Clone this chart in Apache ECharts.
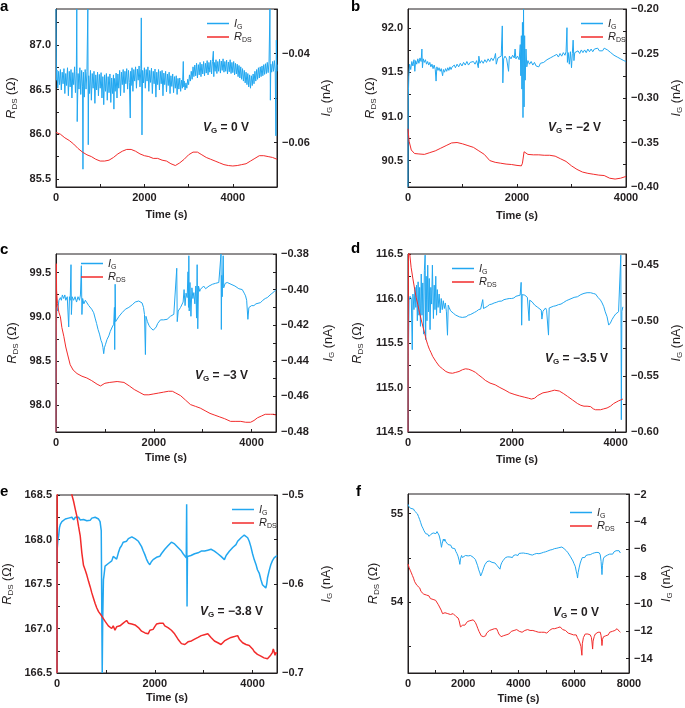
<!DOCTYPE html>
<html><head><meta charset="utf-8">
<script src="https://cdn.jsdelivr.net/npm/echarts@6/dist/echarts.min.js"></script>
<style>html,body{margin:0;padding:0;background:#fff}#c{width:685px;height:708px}</style>
</head><body><div id="c"></div>
<script>
// ---------- DATA ----------
// Panel a (VG = 0 V)
var aIG = [[0,-0.0300],[10,-0.0460],[20,-0.0437],[40,-0.0478],[60,-0.0440],[80,-0.0470],[100,-0.0436],[120,-0.0482],[140,-0.0442],[160,-0.0468],[180,-0.0434],[200,-0.0490],[220,-0.0445],[240,-0.0472],[260,-0.0432],[280,-0.0495],[300,-0.0440],[320,-0.0475],[340,-0.0436],[360,-0.0500],[380,-0.0443],[400,-0.0470],[420,-0.0430],[440,-0.0488],[460,-0.0440],[470,-0.0300],[480,-0.0553],[500,-0.0445],[520,-0.0480],[540,-0.0432],[560,-0.0492],[580,-0.0438],[600,-0.0475],[610,-0.0660],[620,-0.0442],[640,-0.0498],[660,-0.0436],[680,-0.0480],[700,-0.0440],[720,-0.0300],[730,-0.0605],[740,-0.0450],[760,-0.0490],[780,-0.0438],[800,-0.0505],[820,-0.0445],[840,-0.0478],[860,-0.0440],[880,-0.0512],[900,-0.0448],[920,-0.0482],[940,-0.0442],[960,-0.0495],[980,-0.0447],[1000,-0.0478],[1020,-0.0443],[1040,-0.0500],[1060,-0.0452],[1080,-0.0515],[1100,-0.0448],[1120,-0.0485],[1140,-0.0445],[1160,-0.0505],[1180,-0.0452],[1200,-0.0488],[1220,-0.0446],[1240,-0.0510],[1260,-0.0455],[1280,-0.0490],[1300,-0.0448],[1310,-0.0525],[1320,-0.0456],[1340,-0.0485],[1360,-0.0444],[1380,-0.0500],[1400,-0.0446],[1420,-0.0478],[1440,-0.0438],[1460,-0.0495],[1480,-0.0442],[1500,-0.0470],[1520,-0.0436],[1540,-0.0488],[1560,-0.0440],[1580,-0.0468],[1600,-0.0434],[1620,-0.0480],[1640,-0.0438],[1660,-0.0465],[1680,-0.0545],[1690,-0.0440],[1700,-0.0472],[1720,-0.0432],[1740,-0.0485],[1760,-0.0436],[1780,-0.0462],[1800,-0.0430],[1820,-0.0478],[1840,-0.0435],[1860,-0.0460],[1880,-0.0428],[1900,-0.0475],[1920,-0.0434],[1930,-0.0320],[1945,-0.0583],[1960,-0.0438],[1980,-0.0466],[2000,-0.0432],[2020,-0.0478],[2040,-0.0436],[2060,-0.0462],[2080,-0.0430],[2100,-0.0485],[2120,-0.0438],[2140,-0.0465],[2160,-0.0433],[2180,-0.0490],[2200,-0.0440],[2220,-0.0468],[2240,-0.0435],[2260,-0.0498],[2280,-0.0442],[2300,-0.0470],[2320,-0.0436],[2340,-0.0482],[2360,-0.0440],[2380,-0.0468],[2400,-0.0438],[2420,-0.0495],[2440,-0.0444],[2460,-0.0470],[2480,-0.0440],[2500,-0.0486],[2520,-0.0446],[2540,-0.0472],[2560,-0.0442],[2580,-0.0490],[2600,-0.0450],[2620,-0.0474],[2640,-0.0446],[2660,-0.0488],[2680,-0.0452],[2700,-0.0478],[2720,-0.0450],[2740,-0.0492],[2760,-0.0456],[2780,-0.0480],[2800,-0.0455],[2820,-0.0485],[2840,-0.0460],[2860,-0.0478],[2880,-0.0418],[2890,-0.0475],[2900,-0.0462],[2920,-0.0482],[2940,-0.0466],[2960,-0.0478],[2980,-0.0458],[3000,-0.0470],[3020,-0.0448],[3040,-0.0462],[3060,-0.0440],[3080,-0.0458],[3100,-0.0430],[3120,-0.0452],[3140,-0.0426],[3160,-0.0450],[3180,-0.0422],[3200,-0.0455],[3220,-0.0425],[3240,-0.0448],[3260,-0.0420],[3280,-0.0452],[3300,-0.0424],[3320,-0.0446],[3340,-0.0418],[3360,-0.0450],[3380,-0.0422],[3400,-0.0444],[3420,-0.0416],[3440,-0.0448],[3460,-0.0420],[3480,-0.0442],[3500,-0.0415],[3520,-0.0446],[3540,-0.0418],[3560,-0.0395],[3570,-0.0452],[3580,-0.0420],[3600,-0.0440],[3620,-0.0414],[3640,-0.0445],[3660,-0.0418],[3680,-0.0440],[3700,-0.0413],[3720,-0.0444],[3740,-0.0417],[3760,-0.0438],[3780,-0.0412],[3800,-0.0442],[3820,-0.0418],[3840,-0.0440],[3860,-0.0415],[3880,-0.0446],[3900,-0.0419],[3920,-0.0441],[3940,-0.0414],[3960,-0.0445],[3980,-0.0420],[4000,-0.0443],[4020,-0.0418],[4040,-0.0448],[4060,-0.0422],[4080,-0.0446],[4100,-0.0424],[4120,-0.0452],[4140,-0.0427],[4160,-0.0455],[4180,-0.0430],[4200,-0.0458],[4220,-0.0434],[4240,-0.0462],[4260,-0.0438],[4280,-0.0466],[4300,-0.0442],[4320,-0.0470],[4340,-0.0445],[4360,-0.0475],[4380,-0.0448],[4400,-0.0478],[4420,-0.0450],[4440,-0.0472],[4460,-0.0446],[4480,-0.0468],[4500,-0.0440],[4520,-0.0462],[4540,-0.0436],[4560,-0.0458],[4580,-0.0432],[4600,-0.0455],[4620,-0.0430],[4640,-0.0452],[4660,-0.0428],[4680,-0.0450],[4700,-0.0425],[4720,-0.0447],[4740,-0.0423],[4760,-0.0445],[4780,-0.0420],[4800,-0.0443],[4820,-0.0419],[4840,-0.0300],[4850,-0.0505],[4860,-0.0424],[4880,-0.0442],[4900,-0.0418],[4920,-0.0440],[4940,-0.0416],[4960,-0.0438],[4975,-0.0585],[4985,-0.0370],[4995,-0.0440],[5000,-0.0425]];
var aRDS = [[0,86.02],[100,86.00],[200,85.96],[300,85.93],[400,85.89],[500,85.84],[600,85.80],[700,85.77],[800,85.75],[900,85.72],[1000,85.70],[1100,85.70],[1200,85.71],[1300,85.74],[1400,85.78],[1500,85.81],[1600,85.83],[1700,85.83],[1800,85.81],[1900,85.78],[2000,85.76],[2100,85.75],[2200,85.73],[2300,85.73],[2400,85.71],[2500,85.70],[2600,85.67],[2700,85.65],[2800,85.68],[2900,85.72],[3000,85.77],[3100,85.80],[3200,85.80],[3300,85.77],[3400,85.74],[3500,85.72],[3600,85.70],[3700,85.68],[3800,85.66],[3900,85.65],[4000,85.645],[4100,85.65],[4200,85.66],[4300,85.67],[4400,85.70],[4500,85.73],[4600,85.76],[4700,85.76],[4800,85.75],[4900,85.74],[5000,85.72]];
var aXTicks = [0,1000,2000,3000,4000,5000], aXLabels = [0,2000,4000];
var aLTicks = [85.5,85.75,86,86.25,86.5,86.75,87,87.25], aLLabels = [85.5,86,86.5,87];
var aRTicks = [-0.07,-0.06,-0.05,-0.04,-0.03], aRLabels = [-0.06,-0.04];

// Panel b (VG = -2 V)
var bIG = [[0,-0.400],[5,-0.300],[15,-0.275],[30,-0.262],[50,-0.268],[70,-0.259],[90,-0.264],[110,-0.257],[125,-0.270],[140,-0.258],[160,-0.262],[180,-0.256],[200,-0.261],[220,-0.255],[240,-0.259],[255,-0.245],[265,-0.266],[280,-0.256],[300,-0.260],[320,-0.257],[340,-0.262],[360,-0.259],[380,-0.263],[400,-0.260],[420,-0.265],[440,-0.262],[460,-0.267],[480,-0.263],[500,-0.268],[515,-0.281],[530,-0.265],[550,-0.269],[570,-0.266],[590,-0.270],[610,-0.267],[635,-0.275],[650,-0.268],[670,-0.271],[690,-0.267],[710,-0.270],[730,-0.266],[750,-0.269],[770,-0.265],[790,-0.268],[810,-0.265],[830,-0.267],[850,-0.263],[870,-0.266],[900,-0.262],[930,-0.265],[960,-0.261],[990,-0.264],[1020,-0.260],[1050,-0.263],[1080,-0.259],[1110,-0.263],[1140,-0.260],[1170,-0.262],[1200,-0.259],[1230,-0.262],[1260,-0.258],[1290,-0.266],[1300,-0.253],[1320,-0.261],[1350,-0.258],[1380,-0.261],[1410,-0.257],[1440,-0.260],[1470,-0.256],[1500,-0.259],[1530,-0.255],[1560,-0.258],[1590,-0.254],[1605,-0.250],[1620,-0.262],[1650,-0.255],[1680,-0.257],[1710,-0.253],[1730,-0.219],[1740,-0.283],[1755,-0.256],[1780,-0.253],[1810,-0.256],[1845,-0.270],[1860,-0.253],[1890,-0.256],[1920,-0.252],[1950,-0.255],[1965,-0.245],[1980,-0.256],[2010,-0.253],[2040,-0.257],[2060,-0.240],[2070,-0.275],[2080,-0.230],[2090,-0.290],[2100,-0.215],[2110,-0.322],[2120,-0.200],[2130,-0.310],[2140,-0.230],[2150,-0.280],[2165,-0.245],[2180,-0.265],[2200,-0.258],[2230,-0.262],[2260,-0.259],[2290,-0.263],[2320,-0.260],[2350,-0.264],[2380,-0.262],[2400,-0.265],[2430,-0.261],[2460,-0.263],[2490,-0.260],[2520,-0.261],[2550,-0.257],[2580,-0.259],[2610,-0.255],[2640,-0.257],[2670,-0.253],[2700,-0.255],[2730,-0.251],[2760,-0.254],[2790,-0.250],[2820,-0.253],[2850,-0.249],[2880,-0.252],[2900,-0.248],[2917,-0.221],[2925,-0.260],[2940,-0.249],[2960,-0.262],[2980,-0.248],[3000,-0.266],[3015,-0.250],[3030,-0.235],[3045,-0.258],[3060,-0.249],[3090,-0.251],[3120,-0.247],[3150,-0.250],[3180,-0.246],[3210,-0.249],[3240,-0.246],[3270,-0.249],[3300,-0.245],[3330,-0.248],[3360,-0.245],[3390,-0.248],[3420,-0.245],[3450,-0.247],[3480,-0.244],[3510,-0.247],[3540,-0.245],[3570,-0.247],[3600,-0.244],[3630,-0.246],[3660,-0.246],[3690,-0.248],[3720,-0.249],[3750,-0.251],[3780,-0.252],[3810,-0.254],[3840,-0.254],[3870,-0.255],[3900,-0.256],[3930,-0.256],[3960,-0.258],[4000,-0.259]];
var bRDS = [[0,90.86],[20,90.72],[60,90.62],[120,90.58],[200,90.575],[300,90.57],[400,90.59],[500,90.61],[600,90.64],[700,90.67],[800,90.70],[900,90.705],[1000,90.69],[1100,90.67],[1200,90.65],[1300,90.61],[1400,90.57],[1500,90.50],[1600,90.48],[1700,90.47],[1800,90.46],[1900,90.455],[2000,90.445],[2080,90.44],[2100,90.47],[2130,90.60],[2160,90.58],[2200,90.57],[2300,90.565],[2400,90.565],[2500,90.56],[2600,90.56],[2700,90.55],[2800,90.52],[2900,90.49],[3000,90.44],[3100,90.40],[3200,90.37],[3300,90.355],[3400,90.345],[3500,90.335],[3600,90.33],[3700,90.30],[3800,90.29],[3900,90.30],[4000,90.32]];
var bXTicks = [0,1000,2000,3000,4000], bXLabels = [0,2000,4000];
var bLTicks = [90.25,90.5,90.75,91,91.25,91.5,91.75,92], bLLabels = [90.5,91,91.5,92];
var bRTicks = [-0.4,-0.375,-0.35,-0.325,-0.3,-0.275,-0.25,-0.225,-0.2], bRLabels = [-0.4,-0.35,-0.3,-0.25,-0.2];

// Panel c (VG = -3 V)
var cIG = [[0,-0.480],[5,-0.430],[15,-0.410],[34,-0.412],[60,-0.406],[89,-0.4045],[110,-0.406],[130,-0.403],[157,-0.405],[180,-0.403],[200,-0.406],[230,-0.404],[260,-0.421],[275,-0.404],[290,-0.406],[307,-0.386],[315,-0.414],[330,-0.404],[360,-0.406],[390,-0.404],[420,-0.407],[450,-0.404],[480,-0.406],[500,-0.403],[519,-0.3866],[530,-0.414],[545,-0.405],[570,-0.408],[600,-0.406],[635,-0.4075],[670,-0.409],[700,-0.408],[730,-0.411],[771,-0.413],[800,-0.416],[830,-0.419],[860,-0.4224],[890,-0.425],[920,-0.4285],[942,-0.430],[960,-0.4325],[976,-0.436],[990,-0.4327],[1010,-0.431],[1044,-0.428],[1080,-0.426],[1110,-0.4235],[1150,-0.421],[1180,-0.4195],[1195,-0.410],[1201,-0.4337],[1210,-0.397],[1220,-0.418],[1250,-0.417],[1290,-0.415],[1317,-0.4148],[1350,-0.413],[1390,-0.412],[1420,-0.411],[1454,-0.411],[1490,-0.410],[1530,-0.409],[1560,-0.4085],[1590,-0.4082],[1620,-0.407],[1660,-0.4066],[1692,-0.4064],[1730,-0.4066],[1761,-0.4075],[1790,-0.410],[1810,-0.414],[1829,-0.4365],[1840,-0.415],[1870,-0.418],[1900,-0.420],[1932,-0.4214],[1960,-0.422],[1990,-0.4228],[2020,-0.4233],[2050,-0.421],[2080,-0.419],[2110,-0.418],[2137,-0.417],[2170,-0.4175],[2200,-0.417],[2240,-0.4165],[2273,-0.4167],[2300,-0.416],[2340,-0.415],[2380,-0.414],[2410,-0.4139],[2440,-0.413],[2470,-0.388],[2480,-0.418],[2500,-0.412],[2530,-0.411],[2546,-0.4101],[2570,-0.409],[2600,-0.407],[2620,-0.400],[2640,-0.409],[2660,-0.402],[2683,-0.4045],[2700,-0.390],[2710,-0.410],[2717,-0.381],[2725,-0.412],[2740,-0.396],[2760,-0.415],[2780,-0.399],[2800,-0.405],[2819,-0.4017],[2840,-0.408],[2860,-0.398],[2875,-0.416],[2887,-0.386],[2900,-0.422],[2915,-0.398],[2940,-0.401],[2956,-0.3998],[2990,-0.400],[3020,-0.398],[3060,-0.3995],[3092,-0.3988],[3130,-0.398],[3170,-0.3985],[3200,-0.397],[3229,-0.3975],[3260,-0.3965],[3300,-0.397],[3330,-0.396],[3365,-0.3964],[3375,-0.380],[3382,-0.4224],[3390,-0.392],[3400,-0.404],[3420,-0.381],[3430,-0.399],[3460,-0.3965],[3502,-0.396],[3540,-0.3965],[3580,-0.397],[3620,-0.3975],[3660,-0.398],[3700,-0.398],[3740,-0.3995],[3775,-0.3988],[3810,-0.400],[3850,-0.402],[3877,-0.4035],[3900,-0.406],[3925,-0.4167],[3945,-0.4101],[3970,-0.410],[4000,-0.409],[4048,-0.409],[4090,-0.408],[4130,-0.4075],[4184,-0.4073],[4230,-0.406],[4280,-0.405],[4321,-0.4045],[4360,-0.4035],[4400,-0.4025],[4457,-0.4013],[4500,-0.400]];
var cRDS = [[0,97.70],[8,99.60],[12,99.30],[30,99.15],[60,99.05],[90,99.00],[120,98.88],[160,98.78],[200,98.66],[240,98.57],[290,98.46],[350,98.40],[430,98.36],[530,98.33],[630,98.31],[730,98.28],[840,98.24],[910,98.22],[1000,98.25],[1100,98.26],[1250,98.27],[1390,98.26],[1500,98.22],[1600,98.18],[1700,98.15],[1800,98.12],[1900,98.12],[2000,98.13],[2100,98.14],[2200,98.15],[2300,98.16],[2380,98.16],[2450,98.14],[2550,98.11],[2650,98.06],[2750,98.01],[2850,97.99],[2950,97.97],[3050,97.94],[3150,97.91],[3250,97.89],[3350,97.87],[3450,97.85],[3570,97.82],[3680,97.82],[3780,97.82],[3880,97.81],[3980,97.81],[4050,97.83],[4120,97.86],[4200,97.88],[4280,97.90],[4390,97.90],[4450,97.90],[4500,97.89]];
var cXTicks = [0,1000,2000,3000,4000], cXLabels = [0,2000,4000];
var cLTicks = [97.75,98,98.25,98.5,98.75,99,99.25,99.5], cLLabels = [98,98.5,99,99.5];
var cRTicks = [-0.48,-0.47,-0.46,-0.45,-0.44,-0.43,-0.42,-0.41,-0.4,-0.39,-0.38], cRLabels = [-0.48,-0.46,-0.44,-0.42,-0.4,-0.38];

// Panel d (VG = -3.5 V)
var dIG = [[0,-0.600],[8,-0.530],[20,-0.482],[40,-0.478],[63,-0.480],[82,-0.526],[95,-0.476],[115,-0.490],[135,-0.470],[150,-0.488],[165,-0.468],[180,-0.500],[195,-0.465],[210,-0.495],[225,-0.470],[240,-0.505],[255,-0.458],[270,-0.495],[285,-0.466],[300,-0.512],[315,-0.455],[330,-0.441],[340,-0.517],[350,-0.460],[365,-0.500],[380,-0.450],[395,-0.492],[410,-0.462],[425,-0.508],[440,-0.470],[455,-0.485],[470,-0.450],[490,-0.498],[505,-0.468],[520,-0.490],[535,-0.460],[550,-0.495],[565,-0.472],[580,-0.488],[600,-0.476],[620,-0.493],[640,-0.480],[660,-0.490],[680,-0.482],[700,-0.489],[720,-0.484],[740,-0.492],[761,-0.513],[775,-0.486],[792,-0.488],[820,-0.491],[850,-0.490],[880,-0.4935],[919,-0.4949],[950,-0.496],[990,-0.4965],[1046,-0.497],[1080,-0.4955],[1120,-0.4965],[1160,-0.495],[1200,-0.4945],[1236,-0.4934],[1280,-0.4925],[1320,-0.4915],[1360,-0.490],[1400,-0.4895],[1426,-0.4889],[1440,-0.481],[1455,-0.489],[1490,-0.4875],[1530,-0.487],[1570,-0.4855],[1616,-0.485],[1660,-0.484],[1700,-0.4835],[1750,-0.4825],[1807,-0.4823],[1850,-0.481],[1900,-0.4805],[1950,-0.480],[1997,-0.480],[2040,-0.4795],[2080,-0.478],[2120,-0.4775],[2160,-0.477],[2180,-0.4655],[2190,-0.504],[2200,-0.4765],[2250,-0.477],[2300,-0.479],[2333,-0.500],[2345,-0.4815],[2390,-0.483],[2440,-0.4859],[2500,-0.488],[2567,-0.4904],[2580,-0.4985],[2600,-0.4915],[2631,-0.492],[2650,-0.4885],[2670,-0.4905],[2707,-0.5129],[2720,-0.4885],[2757,-0.4889],[2800,-0.487],[2850,-0.4865],[2900,-0.4855],[2948,-0.485],[3000,-0.4835],[3050,-0.482],[3100,-0.481],[3138,-0.4805],[3200,-0.479],[3265,-0.4784],[3330,-0.4765],[3391,-0.4754],[3450,-0.4748],[3518,-0.4748],[3570,-0.4755],[3613,-0.476],[3660,-0.479],[3708,-0.4814],[3740,-0.484],[3772,-0.4874],[3800,-0.492],[3835,-0.4964],[3867,-0.5039],[3900,-0.502],[3930,-0.499],[3962,-0.4965],[4000,-0.494],[4057,-0.4919],[4090,-0.4915],[4100,-0.441],[4110,-0.589],[4120,-0.4915],[4140,-0.4875]];
var dRDS = [[0,114.5],[10,116.6],[30,116.52],[60,116.35],[95,116.22],[130,116.10],[158,116.01],[190,115.93],[222,115.84],[255,115.76],[285,115.69],[320,115.61],[349,115.54],[380,115.48],[412,115.43],[445,115.39],[475,115.35],[540,115.29],[602,115.24],[665,115.21],[729,115.18],[790,115.165],[856,115.16],[920,115.17],[983,115.18],[1050,115.20],[1109,115.21],[1170,115.205],[1236,115.19],[1300,115.17],[1363,115.14],[1430,115.11],[1490,115.08],[1580,115.05],[1680,115.03],[1770,115.00],[1870,114.97],[1960,114.94],[2060,114.92],[2150,114.905],[2250,114.89],[2320,114.88],[2377,114.87],[2440,114.88],[2500,114.91],[2536,114.93],[2600,114.94],[2694,114.95],[2760,114.96],[2821,114.97],[2916,114.96],[3000,114.93],[3074,114.90],[3170,114.86],[3265,114.82],[3330,114.80],[3391,114.79],[3450,114.79],[3518,114.785],[3570,114.76],[3613,114.75],[3660,114.75],[3708,114.75],[3770,114.76],[3835,114.77],[3900,114.79],[3962,114.82],[4010,114.835],[4057,114.85],[4100,114.86],[4140,114.87]];
var dXTicks = [0,1000,2000,3000,4000], dXLabels = [0,2000,4000];
var dLTicks = [114.5,114.75,115,115.25,115.5,115.75,116,116.25,116.5], dLLabels = [114.5,115,115.5,116,116.5];
var dRTicks = [-0.6,-0.575,-0.55,-0.525,-0.5,-0.475,-0.45], dRLabels = [-0.6,-0.55,-0.5,-0.45];

// Panel e (VG = -3.8 V)
var eIG = [[0,-0.700],[5,-0.560],[20,-0.550],[34,-0.546],[50,-0.537],[68,-0.533],[100,-0.530],[136,-0.529],[170,-0.527],[200,-0.529],[235,-0.526],[271,-0.528],[305,-0.525],[340,-0.528],[375,-0.525],[407,-0.527],[440,-0.525],[475,-0.528],[508,-0.526],[542,-0.5275],[575,-0.526],[610,-0.529],[645,-0.527],[678,-0.5285],[712,-0.526],[746,-0.527],[780,-0.525],[814,-0.5255],[850,-0.527],[881,-0.530],[905,-0.540],[925,-0.700],[935,-0.640],[950,-0.595],[963,-0.5896],[983,-0.580],[1010,-0.582],[1050,-0.577],[1085,-0.5764],[1120,-0.574],[1150,-0.569],[1186,-0.5707],[1220,-0.572],[1255,-0.565],[1288,-0.5595],[1320,-0.557],[1355,-0.553],[1390,-0.552],[1424,-0.5519],[1460,-0.549],[1495,-0.550],[1530,-0.547],[1559,-0.5482],[1595,-0.549],[1630,-0.551],[1665,-0.552],[1695,-0.5538],[1730,-0.558],[1765,-0.563],[1797,-0.567],[1830,-0.572],[1865,-0.576],[1898,-0.5783],[1930,-0.575],[1966,-0.5726],[2000,-0.574],[2035,-0.570],[2070,-0.571],[2102,-0.5689],[2135,-0.566],[2170,-0.565],[2205,-0.561],[2237,-0.5595],[2270,-0.557],[2305,-0.556],[2340,-0.553],[2373,-0.5531],[2405,-0.555],[2440,-0.556],[2475,-0.559],[2508,-0.5606],[2545,-0.563],[2580,-0.566],[2615,-0.568],[2644,-0.5707],[2652,-0.5105],[2660,-0.6253],[2668,-0.569],[2700,-0.571],[2740,-0.568],[2780,-0.5689],[2815,-0.566],[2850,-0.567],[2885,-0.565],[2915,-0.5659],[2950,-0.563],[2985,-0.565],[3020,-0.563],[3051,-0.5651],[3085,-0.562],[3120,-0.563],[3150,-0.561],[3186,-0.5613],[3220,-0.563],[3255,-0.565],[3290,-0.566],[3322,-0.5651],[3355,-0.569],[3390,-0.571],[3424,-0.5726],[3460,-0.568],[3490,-0.566],[3525,-0.5632],[3560,-0.561],[3595,-0.559],[3630,-0.557],[3661,-0.5557],[3695,-0.552],[3730,-0.550],[3765,-0.548],[3797,-0.547],[3830,-0.545],[3864,-0.5444],[3900,-0.548],[3932,-0.5519],[3965,-0.558],[4000,-0.566],[4034,-0.5726],[4070,-0.578],[4100,-0.584],[4136,-0.5877],[4170,-0.595],[4203,-0.6008],[4235,-0.603],[4271,-0.6046],[4290,-0.600],[4305,-0.5933],[4340,-0.585],[4373,-0.5783],[4405,-0.574],[4441,-0.5707],[4475,-0.5726],[4500,-0.568]];
var eRDS = [[0,166.50],[6,169.50],[305,168.50],[339,168.43],[370,168.35],[407,168.26],[440,168.15],[475,168.04],[508,167.85],[542,167.71],[575,167.66],[610,167.60],[645,167.53],[678,167.47],[712,167.40],[746,167.34],[780,167.28],[814,167.23],[850,167.19],[881,167.17],[915,167.14],[949,167.13],[985,167.08],[1017,167.06],[1050,167.03],[1085,167.04],[1119,167.00],[1150,167.03],[1186,166.98],[1220,167.02],[1255,167.00],[1288,167.03],[1320,167.01],[1355,167.06],[1390,167.05],[1424,167.09],[1460,167.06],[1495,167.08],[1530,167.05],[1559,167.07],[1595,167.04],[1630,167.05],[1665,167.01],[1695,167.00],[1730,166.97],[1765,166.99],[1800,166.95],[1831,166.96],[1865,166.94],[1900,166.98],[1935,166.96],[1966,166.99],[2000,167.02],[2035,167.05],[2070,167.03],[2102,167.06],[2135,167.04],[2170,167.06],[2205,167.03],[2237,167.04],[2270,167.01],[2305,167.02],[2340,166.98],[2373,166.98],[2405,166.94],[2440,166.92],[2475,166.88],[2508,166.87],[2545,166.83],[2580,166.85],[2615,166.82],[2644,166.83],[2680,166.85],[2715,166.83],[2750,166.86],[2780,166.84],[2815,166.88],[2850,166.86],[2885,166.90],[2920,166.88],[2950,166.92],[2983,166.90],[3015,166.93],[3050,166.91],[3085,166.94],[3119,166.92],[3150,166.90],[3185,166.89],[3220,166.86],[3254,166.87],[3290,166.84],[3325,166.85],[3355,166.82],[3390,166.83],[3425,166.86],[3460,166.85],[3490,166.88],[3525,166.87],[3560,166.90],[3595,166.88],[3630,166.91],[3661,166.90],[3695,166.92],[3730,166.88],[3765,166.86],[3797,166.84],[3830,166.85],[3865,166.82],[3900,166.83],[3932,166.81],[3965,166.79],[4000,166.77],[4035,166.74],[4068,166.74],[4100,166.71],[4135,166.72],[4170,166.69],[4203,166.70],[4235,166.67],[4270,166.69],[4305,166.66],[4339,166.68],[4370,166.70],[4405,166.73],[4425,166.77],[4441,166.76],[4460,166.70],[4475,166.73],[4500,166.72]];
var eXTicks = [0,1000,2000,3000,4000], eXLabels = [0,2000,4000];
var eLTicks = [166.5,166.75,167,167.25,167.5,167.75,168,168.25,168.5], eLLabels = [166.5,167,167.5,168,168.5];
var eRTicks = [-0.7,-0.65,-0.6,-0.55,-0.5], eRLabels = [-0.7,-0.6,-0.5];

// Panel f (VG = 0 V)
var fIG = [[0,-2.70],[30,-2.85],[60,-2.80],[90,-3.00],[121,-2.95],[160,-3.10],[200,-3.05],[240,-3.20],[280,-3.15],[303,-3.25],[340,-3.40],[380,-3.60],[424,-3.83],[460,-4.05],[500,-4.30],[540,-4.45],[570,-4.60],[605,-4.68],[640,-4.85],[680,-4.95],[720,-4.90],[760,-5.05],[787,-5.00],[830,-4.90],[870,-4.95],[910,-4.80],[950,-4.85],[969,-4.75],[1010,-4.85],[1050,-4.70],[1090,-4.80],[1120,-4.95],[1150,-5.17],[1180,-5.45],[1211,-5.85],[1240,-5.55],[1280,-5.25],[1310,-5.40],[1332,-5.25],[1370,-5.45],[1410,-5.55],[1450,-5.65],[1480,-5.60],[1513,-5.78],[1550,-5.70],[1590,-5.90],[1630,-5.85],[1660,-6.00],[1695,-5.95],[1730,-6.15],[1770,-6.30],[1810,-6.50],[1850,-6.80],[1877,-7.10],[1900,-6.70],[1940,-6.45],[1970,-6.60],[1998,-6.51],[2040,-6.60],[2080,-6.45],[2120,-6.55],[2150,-6.40],[2179,-6.48],[2220,-6.60],[2260,-6.45],[2300,-6.55],[2330,-6.50],[2361,-6.58],[2400,-6.65],[2440,-6.75],[2482,-6.88],[2520,-7.20],[2560,-7.50],[2603,-7.73],[2630,-7.95],[2663,-7.80],[2700,-7.60],[2740,-7.35],[2785,-7.12],[2820,-7.00],[2860,-6.90],[2900,-6.80],[2940,-6.85],[2966,-6.76],[3000,-6.85],[3040,-6.95],[3080,-6.85],[3110,-6.95],[3148,-7.00],[3190,-7.10],[3230,-7.20],[3270,-7.30],[3300,-7.25],[3329,-7.45],[3360,-7.15],[3400,-6.95],[3450,-6.80],[3490,-6.75],[3530,-6.60],[3570,-6.70],[3610,-6.55],[3650,-6.65],[3692,-6.56],[3740,-6.50],[3780,-6.60],[3820,-6.45],[3860,-6.50],[3900,-6.40],[3935,-6.39],[3980,-6.45],[4020,-6.30],[4060,-6.40],[4100,-6.28],[4140,-6.35],[4177,-6.27],[4220,-6.38],[4260,-6.30],[4300,-6.42],[4340,-6.32],[4380,-6.40],[4419,-6.38],[4460,-6.30],[4500,-6.42],[4540,-6.28],[4580,-6.35],[4620,-6.25],[4661,-6.30],[4700,-6.22],[4740,-6.32],[4780,-6.20],[4820,-6.28],[4860,-6.18],[4903,-6.22],[4940,-6.10],[4980,-6.18],[5020,-6.05],[5060,-6.12],[5100,-6.00],[5145,-6.05],[5180,-5.95],[5220,-6.02],[5260,-5.88],[5300,-5.95],[5340,-5.85],[5387,-5.92],[5420,-5.80],[5460,-5.88],[5500,-5.75],[5530,-5.85],[5569,-5.83],[5610,-5.90],[5650,-5.95],[5690,-6.02],[5730,-6.10],[5751,-6.05],[5790,-6.25],[5830,-6.35],[5870,-6.50],[5900,-6.60],[5932,-6.63],[5970,-6.85],[6010,-7.05],[6053,-7.24],[6090,-7.60],[6120,-7.85],[6138,-8.10],[6160,-7.70],[6200,-7.30],[6235,-7.00],[6270,-6.80],[6310,-6.60],[6356,-6.51],[6400,-6.60],[6440,-6.45],[6480,-6.55],[6520,-6.40],[6560,-6.50],[6598,-6.39],[6640,-6.45],[6680,-6.30],[6720,-6.40],[6760,-6.25],[6800,-6.32],[6840,-6.22],[6880,-6.30],[6920,-6.25],[6960,-6.40],[6990,-6.90],[7010,-7.50],[7022,-7.85],[7040,-7.20],[7070,-6.70],[7110,-6.55],[7143,-6.50],[7180,-6.60],[7220,-6.42],[7260,-6.50],[7300,-6.35],[7325,-6.38],[7370,-6.25],[7410,-6.35],[7450,-6.20],[7490,-6.28],[7530,-6.10],[7567,-6.02],[7600,-6.20],[7640,-6.10],[7688,-6.27]];
var fRDS = [[0,54.43],[40,54.39],[80,54.36],[121,54.33],[160,54.30],[200,54.27],[242,54.23],[280,54.21],[320,54.19],[370,54.18],[424,54.16],[470,54.12],[520,54.11],[570,54.09],[620,54.10],[666,54.08],[710,54.06],[760,54.07],[810,54.04],[860,54.05],[908,54.03],[950,54.04],[1000,54.02],[1050,54.00],[1100,53.97],[1150,53.95],[1200,53.91],[1250,53.87],[1290,53.89],[1340,53.88],[1392,53.89],[1440,53.87],[1490,53.88],[1540,53.86],[1590,53.88],[1634,53.87],[1680,53.85],[1730,53.84],[1780,53.82],[1816,53.82],[1850,53.79],[1900,53.72],[1937,53.71],[1980,53.74],[2020,53.75],[2058,53.74],[2100,53.76],[2150,53.78],[2200,53.77],[2240,53.79],[2300,53.80],[2361,53.80],[2400,53.79],[2440,53.77],[2482,53.74],[2530,53.70],[2570,53.67],[2603,53.65],[2650,53.62],[2690,53.64],[2724,53.61],[2770,53.63],[2810,53.62],[2845,53.65],[2900,53.66],[2950,53.68],[3000,53.70],[3040,53.69],[3087,53.71],[3130,53.70],[3170,53.71],[3208,53.70],[3250,53.67],[3290,53.64],[3329,53.63],[3370,53.61],[3410,53.63],[3450,53.62],[3500,53.64],[3550,53.63],[3600,53.65],[3650,53.64],[3692,53.65],[3740,53.67],[3790,53.66],[3840,53.68],[3890,53.67],[3935,53.69],[3980,53.68],[4030,53.67],[4080,53.68],[4130,53.66],[4177,53.67],[4230,53.68],[4280,53.67],[4330,53.69],[4380,53.68],[4419,53.68],[4470,53.67],[4520,53.68],[4570,53.66],[4620,53.67],[4680,53.68],[4730,53.66],[4782,53.67],[4830,53.66],[4880,53.67],[4930,53.66],[4980,53.65],[5024,53.65],[5070,53.66],[5120,53.68],[5170,53.69],[5220,53.70],[5266,53.71],[5310,53.70],[5360,53.72],[5410,53.71],[5460,53.73],[5508,53.72],[5550,53.70],[5600,53.69],[5650,53.67],[5700,53.68],[5751,53.66],[5800,53.65],[5850,53.66],[5900,53.64],[5950,53.65],[5993,53.63],[6040,53.62],[6090,53.63],[6130,53.60],[6174,53.59],[6210,53.55],[6235,53.57],[6260,53.50],[6280,53.48],[6295,53.40],[6310,53.53],[6350,53.60],[6380,53.62],[6416,53.64],[6460,53.62],[6510,53.64],[6560,53.62],[6598,53.63],[6640,53.60],[6660,53.55],[6683,53.47],[6700,53.56],[6740,53.61],[6780,53.64],[6830,53.63],[6880,53.66],[6920,53.64],[6961,53.66],[6990,53.62],[7010,53.56],[7022,53.51],[7040,53.58],[7080,53.61],[7120,53.63],[7160,53.62],[7203,53.64],[7250,53.63],[7300,53.66],[7350,53.65],[7400,53.67],[7446,53.66],[7490,53.68],[7530,53.67],[7567,53.70],[7610,53.68],[7650,53.67],[7688,53.66]];
var fXTicks = [0,1000,2000,3000,4000,5000,6000,7000,8000], fXLabels = [0,2000,4000,6000,8000];
var fLTicks = [53.5,54,54.5,55], fLLabels = [54,55];
var fRTicks = [-14,-12,-10,-8,-6,-4,-2], fRLabels = [-14,-12,-10,-8,-6,-4,-2];

var panelLetters = ['a','b','c','d','e','f'];
var gateVoltages = ['0 V','\u22122 V','\u22123 V','\u22123.5 V','\u22123.8 V','0 V'];

// ---------- LAYOUT ----------
var FONT = '"Liberation Sans", Arial, Helvetica, sans-serif';
var BLUE = '#22a7f0', RED = '#f22b2b', AX = '#231f20';
var panels = [
  {ig:aIG, r:aRDS, xt:aXTicks, xl:aXLabels, lt:aLTicks, ll:aLLabels, rt:aRTicks, rl:aRLabels,
   grid:{left:56,top:9,width:221,height:178}, x:[0,5000], L:[85.41,87.40], R:[-0.07,-0.03],
   ld:1, rd:2, lGap:37, rGap:43, xGap:22, leg:[207,18], vg:[203,120], let:[0,-1], lw:1},
  {ig:bIG, r:bRDS, xt:bXTicks, xl:bXLabels, lt:bLTicks, ll:bLLabels, rt:bRTicks, rl:bRLabels,
   grid:{left:408,top:9,width:221,height:178}, x:[0,4000], L:[90.2,92.22], R:[-0.40,-0.20],
   ld:1, rd:2, lGap:29, rGap:44, xGap:23, leg:[581,18], vg:[548,120], let:[351,-1], lw:1},
  {ig:cIG, r:cRDS, xt:cXTicks, xl:cXLabels, lt:cLTicks, ll:cLLabels, rt:cRTicks, rl:cRLabels,
   grid:{left:56,top:254,width:220,height:178}, x:[0,4500], L:[97.70,99.71], R:[-0.48,-0.38],
   ld:1, rd:2, lGap:36, rGap:46, xGap:20, leg:[81,258], vg:[195,368], let:[0,242], lw:1},
  {ig:dIG, r:dRDS, xt:dXTicks, xl:dXLabels, lt:dLTicks, ll:dLLabels, rt:dRTicks, rl:dRLabels,
   grid:{left:408,top:254,width:221,height:178}, x:[0,4200], L:[114.5,116.5], R:[-0.60,-0.44],
   ld:1, rd:2, lGap:43, rGap:44, xGap:22, leg:[452,263], vg:[545,351], let:[351,241], lw:1},
  {ig:eIG, r:eRDS, xt:eXTicks, xl:eXLabels, lt:eLTicks, ll:eLLabels, rt:eRTicks, rl:eRLabels,
   grid:{left:57,top:495,width:220,height:178}, x:[0,4500], L:[166.5,168.5], R:[-0.7,-0.5],
   ld:1, rd:1, lGap:42, rGap:43, xGap:19, leg:[232,504], vg:[200,604], let:[0,484], lw:1.5},
  {ig:fIG, r:fRDS, xt:fXTicks, xl:fXLabels, lt:fLTicks, ll:fLLabels, rt:fRTicks, rl:fRLabels,
   grid:{left:408,top:494,width:221,height:179}, x:[0,8000], L:[53.2,55.22], R:[-15.05,-1.95],
   ld:0, rd:0, lGap:27, rGap:31, xGap:20, leg:[570,507], vg:[553,605], let:[356,484], lw:1}
];

function fmt(v, d) { return v.toFixed(d).replace('-', '\u2212'); }
var labelStyle = {color: AX, fontFamily: FONT, fontWeight: 'bold', fontSize: 11, margin: 5};
var nameRich = {
  i: {fontFamily: FONT, fontSize: 12.5, fontStyle: 'italic', color: AX, lineHeight: 14},
  s: {fontFamily: FONT, fontSize: 8, color: AX, verticalAlign: 'bottom', lineHeight: 14, padding: [5,0,0,0]},
  n: {fontFamily: FONT, fontSize: 12.5, color: AX, lineHeight: 14}
};

var option = {
  animation: false, backgroundColor: '#fff',
  grid: [], xAxis: [], yAxis: [], series: [], legend: [], title: []
};

panels.forEach(function (p, k) {
  var g = Object.assign({show: true, borderColor: AX, borderWidth: 1, backgroundColor: 'transparent'}, p.grid);
  option.grid.push(g);
  option.xAxis.push({
    type: 'value', gridIndex: k, min: p.x[0], max: p.x[1],
    name: 'Time (s)', nameLocation: 'middle', nameGap: p.xGap,
    nameTextStyle: {fontFamily: FONT, fontWeight: 'bold', fontSize: 11, color: AX},
    axisLine: {lineStyle: {color: AX, width: 1}},
    axisTick: {inside: true, length: 3, customValues: p.xt, lineStyle: {color: AX}},
    axisLabel: Object.assign({customValues: p.xl, formatter: function (v) { return String(Math.round(v)); }}, labelStyle),
    splitLine: {show: false}
  });
  var ld = p.ld, rd = p.rd;
  option.yAxis.push({
    type: 'value', gridIndex: k, position: 'left', min: p.L[0], max: p.L[1],
    name: '{i|R}{s|DS}{n| (\u03A9)}', nameLocation: 'middle', nameRotate: 90, nameGap: p.lGap,
    nameTextStyle: {rich: nameRich},
    axisLine: {show: true, lineStyle: {color: AX, width: 1}},
    axisTick: {show: true, inside: true, length: 3, customValues: p.lt, lineStyle: {color: AX}},
    axisLabel: Object.assign({customValues: p.ll, formatter: function (v) { return fmt(v, ld); }}, labelStyle),
    splitLine: {show: false}
  });
  option.yAxis.push({
    type: 'value', gridIndex: k, position: 'right', min: p.R[0], max: p.R[1],
    name: '{i|I}{s|G}{n| (nA)}', nameLocation: 'middle', nameRotate: 90, nameGap: p.rGap,
    nameTextStyle: {rich: nameRich},
    axisLine: {show: true, lineStyle: {color: AX, width: 1}},
    axisTick: {show: true, inside: true, length: 3, customValues: p.rt, lineStyle: {color: AX}},
    axisLabel: Object.assign({customValues: p.rl, formatter: function (v) { return fmt(v, rd); }}, labelStyle),
    splitLine: {show: false}
  });
  option.series.push({
    name: 'IG', type: 'line', xAxisIndex: k, yAxisIndex: 2 * k + 1, data: p.ig,
    showSymbol: false, symbol: 'none', clip: true,
    lineStyle: {color: BLUE, width: p.lw}, itemStyle: {color: BLUE}
  });
  option.series.push({
    name: 'RDS', type: 'line', xAxisIndex: k, yAxisIndex: 2 * k, data: p.r,
    showSymbol: false, symbol: 'none', clip: true,
    lineStyle: {color: RED, width: p.lw}, itemStyle: {color: RED}
  });
  option.legend.push({
    left: p.leg[0], top: p.leg[1], orient: 'vertical', itemGap: 1, padding: 0, selectedMode: false,
    icon: 'rect', itemWidth: 22, itemHeight: 1.5,
    data: ['IG', 'RDS'],
    formatter: function (n) { return n === 'IG' ? '{i|I}{s|G}' : '{i|R}{s|DS}'; },
    textStyle: {padding: [0,0,0,0], rich: {
      i: {fontFamily: FONT, fontSize: 11, fontStyle: 'italic', color: AX, lineHeight: 14},
      s: {fontFamily: FONT, fontSize: 7, color: AX, verticalAlign: 'bottom', padding: [5,0,0,0]}
    }}
  });
  option.title.push({
    text: panelLetters[k], left: p.let[0], top: p.let[1], padding: 0,
    textStyle: {fontFamily: FONT, fontWeight: 'bold', fontSize: 15, color: '#000'}
  });
  option.title.push({
    text: '{v|V}{s|G}{n| = ' + gateVoltages[k] + '}', left: p.vg[0], top: p.vg[1], padding: 0,
    textStyle: {rich: {
      v: {fontFamily: FONT, fontSize: 12, fontWeight: 'bold', fontStyle: 'italic', color: AX, lineHeight: 15},
      s: {fontFamily: FONT, fontSize: 8, fontWeight: 'bold', color: AX, verticalAlign: 'bottom', lineHeight: 15, padding: [5,0,0,0]},
      n: {fontFamily: FONT, fontSize: 12, fontWeight: 'bold', color: AX, lineHeight: 15}
    }}
  });
});

var chart = echarts.init(document.getElementById('c'), null, {renderer: 'canvas', width: 685, height: 708});
chart.setOption(option);
</script></body></html>
